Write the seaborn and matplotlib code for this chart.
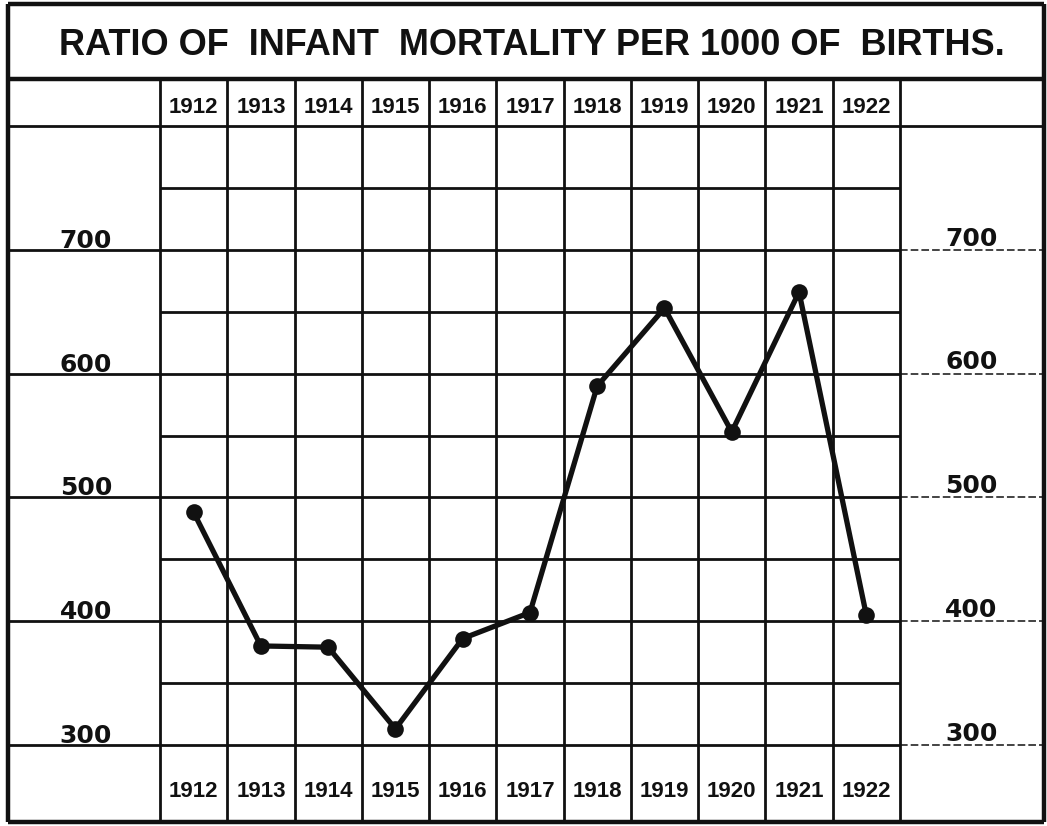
import matplotlib
matplotlib.use("Agg")
import matplotlib.pyplot as plt
import pandas as pd
import seaborn as sns

# values
years = [1912, 1913, 1914, 1915, 1916, 1917, 1918, 1919, 1920, 1921, 1922]
mortality = [488, 380, 379, 313, 386, 407, 590, 653, 553, 666, 405]
major_levels = [300, 400, 500, 600, 700]
minor_levels = [350, 450, 550, 650, 750]
level_labels = ["300", "400", "500", "600", "700"]
header_level = 800
title = "RATIO OF  INFANT  MORTALITY PER 1000 OF  BIRTHS."

sns.set_theme(style="white")
plt.rcParams["font.family"] = ["Liberation Sans", "DejaVu Sans"]

fig = plt.figure(figsize=(10.47, 8.26), dpi=100)
ax = fig.add_axes([0, 0, 1, 1])

x0 = years[0]
left_edge, right_edge = x0 - 2.76, x0 + 12.64
top_edge, bottom_edge = 898.5, 237.8
title_line = 838.2
grid_l, grid_r = years[0] - 0.5, years[-1] + 0.5
bounds = [y - 0.5 for y in years] + [years[-1] + 0.5]

ink = "#111111"

# column rules
ax.vlines(bounds, bottom_edge, title_line, color=ink, lw=2.0, zorder=1)

# hundreds run across the margins, fifties stay inside the columns
ax.hlines(major_levels, left_edge, grid_r, color=ink, lw=2.0, zorder=1)
ax.hlines(major_levels, grid_r, right_edge, color=ink, lw=1.1,
          linestyle=(0, (5, 2)), zorder=1)
ax.hlines(minor_levels, grid_l, grid_r, color=ink, lw=2.0, zorder=1)
ax.hlines(header_level, left_edge, right_edge, color=ink, lw=2.0, zorder=1)

# frame and title box
ax.hlines([title_line, top_edge, bottom_edge], left_edge, right_edge,
          color=ink, lw=3.2, zorder=2)
ax.vlines([left_edge, right_edge], bottom_edge, top_edge, color=ink, lw=3.2, zorder=2)

df = pd.DataFrame({"year": years, "rate": mortality})
sns.lineplot(data=df, x="year", y="rate", color=ink, lw=3.8, marker="o",
             markersize=12, markeredgewidth=0, ax=ax, zorder=5)
ax.set_xlim(x0 - 2.878, x0 + 12.686)
ax.set_ylim(234.5, 902.0)
ax.axis("off")

for y in years:
    ax.text(y, 810.7, str(y), ha="center", va="baseline",
            fontsize=16, fontweight="bold", color=ink)
    ax.text(y, 258.0, str(y), ha="center", va="baseline",
            fontsize=16, fontweight="bold", color=ink)

for lvl, lab in zip(major_levels, level_labels):
    ax.text(x0 - 1.213, lvl + 1.6, lab, ha="right", va="baseline",
            fontsize=18, fontweight="bold", color=ink, family="DejaVu Sans")
    ax.text(x0 + 11.17, lvl + 3.5, lab, ha="left", va="baseline",
            fontsize=18, fontweight="bold", color=ink, family="DejaVu Sans")

fig.text(0.508, 0.9334, title, ha="center", va="baseline",
         fontsize=26, fontweight="bold", color=ink)

fig.savefig("out.png", dpi=100)
